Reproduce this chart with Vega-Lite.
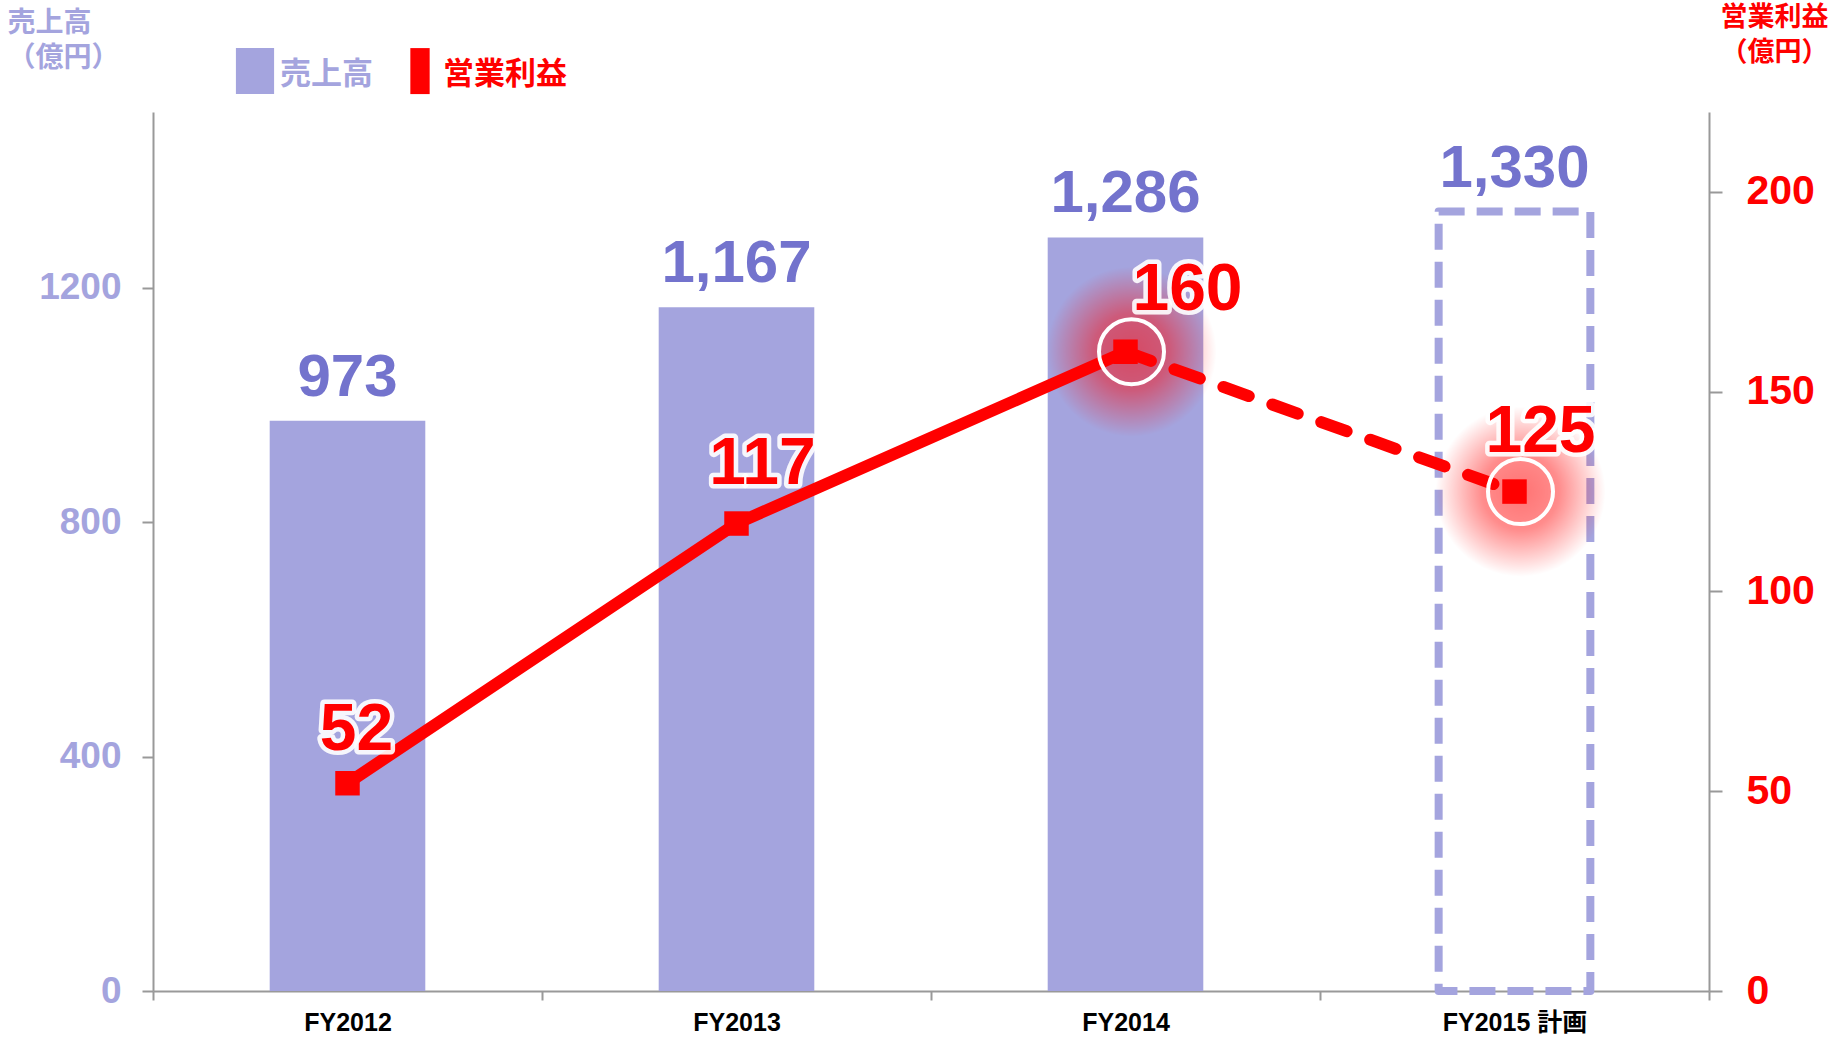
{
  "$schema": "https://vega.github.io/schema/vega-lite/v6.json",
  "width": 1556,
  "height": 879,
  "autosize": {"type": "none"},
  "padding": {"left": 153, "top": 112, "right": 124, "bottom": 46},
  "background": "white",
  "config": {"view": {"stroke": null}, "font": "Liberation Sans, Noto Sans CJK JP"},
  "data": {"values": [
    {"fy": "FY2012", "sales": 973, "profit": 52},
    {"fy": "FY2013", "sales": 1167, "profit": 117},
    {"fy": "FY2014", "sales": 1286, "profit": 160},
    {"fy": "FY2015 計画", "sales": 1330, "profit": 125}
  ]},
  "encoding": {
    "x": {
      "field": "fy", "type": "nominal", "sort": null,
      "scale": {"paddingInner": 0, "paddingOuter": 0},
      "axis": {
        "title": null, "labelAngle": 0, "tickBand": "extent",
        "labelFont": "Liberation Sans, Noto Sans CJK JP", "labelFontSize": 25, "labelFontWeight": "bold", "labelColor": "#000000",
        "labelPadding": 10, "tickSize": 9, "tickColor": "#999999", "tickWidth": 2,
        "domainColor": "#999999", "domainWidth": 2, "grid": false
      }
    }
  },
  "layer": [
    {
      "encoding": {
        "y": {
          "field": "sales", "type": "quantitative",
          "scale": {"domain": [0, 1500], "nice": false},
          "axis": {
            "orient": "left", "values": [0, 400, 800, 1200], "format": "d", "grid": false,
            "labelFont": "Liberation Sans", "labelFontSize": 37, "labelFontWeight": "bold", "labelColor": "#a4a4de",
            "labelPadding": 21, "tickSize": 11, "tickColor": "#999999", "tickWidth": 2,
            "domainColor": "#999999", "domainWidth": 2,
            "title": ["売上高", "（億円）"], "titleAngle": 0, "titleAlign": "left", "titleBaseline": "top",
            "titleX": -146, "titleY": -103, "titleFont": "Noto Sans CJK JP", "titleFontSize": 28,
            "titleFontWeight": "bold", "titleColor": "#a4a4de", "titleLineHeight": 35
          }
        }
      },
      "layer": [
        {
          "transform": [{"filter": "datum.fy != 'FY2015 計画'"}],
          "mark": {"type": "bar", "width": {"band": 0.4}},
          "encoding": {
            "fill": {
              "datum": "売上高", "type": "nominal",
              "scale": {"domain": ["売上高"], "range": ["#a4a4de"]},
              "legend": {
                "orient": "none", "legendX": 79, "legendY": -60, "title": null, "padding": 0,
                "symbolType": "M-0.83,-1.17H0.83V0.83H-0.83Z", "symbolSize": 2116, "symbolStrokeWidth": 0,
                "labelFont": "Noto Sans CJK JP", "labelFontSize": 31, "labelFontWeight": "bold",
                "labelColor": "#a4a4de", "labelOffset": 2
              }
            }
          }
        },
        {
          "transform": [{"filter": "datum.fy == 'FY2015 計画'"}],
          "mark": {"type": "bar", "width": {"band": 0.39}, "fill": "#ffffff", "fillOpacity": 0,
                   "stroke": "#a4a4de", "strokeWidth": 8, "strokeDash": [26, 12], "strokeJoin": "round"}
        },
        {
          "mark": {"type": "text", "baseline": "alphabetic", "align": "center", "dy": -25,
                   "font": "Liberation Sans", "fontSize": 60, "fontWeight": "bold", "fill": "#7373cd"},
          "encoding": {"text": {"field": "sales", "type": "quantitative", "format": ","}}
        }
      ]
    },
    {
      "encoding": {
        "y": {
          "field": "profit", "type": "quantitative",
          "scale": {"domain": [0, 220], "nice": false},
          "axis": {
            "orient": "right", "values": [0, 50, 100, 150, 200], "grid": false,
            "labelFont": "Liberation Sans", "labelFontSize": 41, "labelFontWeight": "bold", "labelColor": "#ff0000",
            "labelPadding": 24, "tickSize": 13, "tickColor": "#999999", "tickWidth": 2,
            "domainColor": "#999999", "domainWidth": 2,
            "title": ["営業利益", "（億円）"], "titleAngle": 0, "titleAlign": "center", "titleBaseline": "top",
            "titleX": 65, "titleY": -108, "titleFont": "Noto Sans CJK JP", "titleFontSize": 27,
            "titleFontWeight": "bold", "titleColor": "#ff0000", "titleLineHeight": 35
          }
        }
      },
      "layer": [
        {
          "transform": [{"filter": "datum.fy == 'FY2014' || datum.fy == 'FY2015 計画'"}],
          "mark": {"type": "point", "shape": "circle", "filled": true, "size": 28900, "xOffset": 6, "strokeWidth": 0,
                   "fill": {"gradient": "radial", "x1": 0.5, "y1": 0.5, "r1": 0, "x2": 0.5, "y2": 0.5, "r2": 0.5,
                            "stops": [{"offset": 0, "color": "rgba(255,0,0,0.55)"}, {"offset": 0.45, "color": "rgba(255,0,0,0.45)"}, {"offset": 1, "color": "rgba(255,0,0,0)"}]},
                   "opacity": 1}
        },
        {
          "transform": [{"filter": "datum.fy != 'FY2015 計画'"}],
          "mark": {"type": "line", "color": "#ff0000", "strokeWidth": 12},
          "encoding": {}
        },
        {
          "transform": [{"filter": "datum.fy == 'FY2014' || datum.fy == 'FY2015 計画'"}],
          "mark": {"type": "line", "color": "#ff0000", "strokeWidth": 12, "strokeDash": [27, 25], "strokeCap": "round"},
          "encoding": {}
        },
        {
          "mark": {"type": "point", "shape": "square", "filled": true, "size": 600, "opacity": 1},
          "encoding": {
            "color": {
              "datum": "営業利益", "type": "nominal",
              "scale": {"domain": ["営業利益"], "range": ["#ff0000"]},
              "legend": {
                "orient": "none", "legendX": 244, "legendY": -60, "title": null, "padding": 0,
                "symbolType": "M-0.42,-1.17H0.42V0.83H-0.42Z", "symbolSize": 2116, "symbolStrokeWidth": 0,
                "labelFont": "Noto Sans CJK JP", "labelFontSize": 31, "labelFontWeight": "bold",
                "labelColor": "#ff0000", "labelOffset": 0
              }
            }
          }
        },
        {
          "transform": [{"filter": "datum.fy == 'FY2014' || datum.fy == 'FY2015 計画'"}],
          "mark": {"type": "point", "shape": "circle", "filled": false, "size": 4225, "xOffset": 6,
                   "stroke": "#ffffff", "strokeWidth": 4, "opacity": 1}
        },
        {
          "transform": [{"filter": "datum.fy == 'FY2012'"}],
          "mark": {"type": "text", "baseline": "alphabetic", "align": "center", "dx": 9, "dy": -33,
                   "font": "Liberation Sans", "fontSize": 66, "fontWeight": "bold",
                   "fill": "#ffffff", "stroke": "#ffffff", "strokeWidth": 9, "strokeJoin": "round", "strokeOpacity": 0.9},
          "encoding": {"text": {"field": "profit", "type": "quantitative"}}
        },
        {
          "transform": [{"filter": "datum.fy == 'FY2012'"}],
          "mark": {"type": "text", "baseline": "alphabetic", "align": "center", "dx": 9, "dy": -33,
                   "font": "Liberation Sans", "fontSize": 66, "fontWeight": "bold", "fill": "#ff0000"},
          "encoding": {"text": {"field": "profit", "type": "quantitative"}}
        },
        {
          "transform": [{"filter": "datum.fy == 'FY2013' || datum.fy == 'FY2015 計画'"}],
          "mark": {"type": "text", "baseline": "alphabetic", "align": "center", "dx": 26, "dy": -40,
                   "font": "Liberation Sans", "fontSize": 66, "fontWeight": "bold",
                   "fill": "#ffffff", "stroke": "#ffffff", "strokeWidth": 9, "strokeJoin": "round", "strokeOpacity": 0.9},
          "encoding": {"text": {"field": "profit", "type": "quantitative"}}
        },
        {
          "transform": [{"filter": "datum.fy == 'FY2013' || datum.fy == 'FY2015 計画'"}],
          "mark": {"type": "text", "baseline": "alphabetic", "align": "center", "dx": 26, "dy": -40,
                   "font": "Liberation Sans", "fontSize": 66, "fontWeight": "bold", "fill": "#ff0000"},
          "encoding": {"text": {"field": "profit", "type": "quantitative"}}
        },
        {
          "transform": [{"filter": "datum.fy == 'FY2014'"}],
          "mark": {"type": "text", "baseline": "alphabetic", "align": "center", "dx": 62, "dy": -42,
                   "font": "Liberation Sans", "fontSize": 66, "fontWeight": "bold",
                   "fill": "#ffffff", "stroke": "#ffffff", "strokeWidth": 9, "strokeJoin": "round", "strokeOpacity": 0.9},
          "encoding": {"text": {"field": "profit", "type": "quantitative"}}
        },
        {
          "transform": [{"filter": "datum.fy == 'FY2014'"}],
          "mark": {"type": "text", "baseline": "alphabetic", "align": "center", "dx": 62, "dy": -42,
                   "font": "Liberation Sans", "fontSize": 66, "fontWeight": "bold", "fill": "#ff0000"},
          "encoding": {"text": {"field": "profit", "type": "quantitative"}}
        }
      ]
    }
  ],
  "resolve": {"scale": {"y": "independent"}}
}
